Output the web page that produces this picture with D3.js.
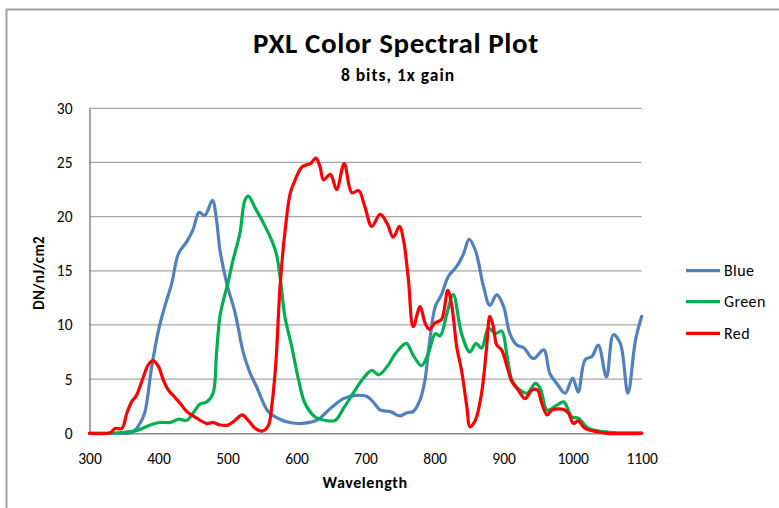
<!DOCTYPE html>
<html>
<head>
<meta charset="utf-8">
<script src="https://cdn.jsdelivr.net/npm/d3@7"></script>
<style>
  html, body { margin: 0; padding: 0; background: #fff; }
  svg { display: block; }
  text { font-family: Carlito, Lato, "Open Sans", sans-serif; fill: #000; }
</style>
</head>
<body>
<svg id="chart" width="779" height="508"></svg>
<script>
const title = "PXL Color Spectral Plot";
const subtitle = "8 bits, 1x gain";
const xTitle = "Wavelength";
const yTitle = "DN/nJ/cm2";
const xTicks = [300, 400, 500, 600, 700, 800, 900, 1000, 1100];
const yTicks = [0, 5, 10, 15, 20, 25, 30];
const seriesNames = ["Blue", "Green", "Red"];
const seriesColors = ["#4f81bd", "#00b050", "#ff0000"];

const blueX = [300,340,362,372,380,390,400,409,419,429,441,450,459,467,478,484,489,499,511,523,533,542,559,576,590,605,629,649,668,687,702,711,721,736,750,760,769,779,786,793,801,810,820,832,842,850,859,871,880,890,900,909,919,929,943,958,967,977,989,1000,1008,1018,1028,1037,1049,1059,1069,1080,1091,1100];
const blueY = [0,0,0.1,0.8,1.9,6.1,9.5,11.7,13.8,16.6,17.7,18.8,20.4,20.1,21.5,19.7,16.9,13.8,11.1,7.4,5.5,4.3,2.0,1.3,1.0,0.9,1.2,2.3,3.2,3.5,3.4,2.9,2.15,2.0,1.6,1.9,2.0,3.1,4.9,8.6,11.7,12.8,14.5,15.4,16.6,17.9,16.9,13.5,11.8,12.8,11.7,9.2,8.15,7.9,6.9,7.7,5.5,4.6,3.7,5.1,3.8,6.8,7.1,8.15,5.2,9.1,8.3,3.7,8.6,10.8];

const greenX = [300,330,350,368,388,402,417,429,441,450,460,470,479,484,489,494,501,508,518,525,530,540,552,564,571,577,583,593,603,612,627,641,656,668,682,697,709,719,731,745,759,769,781,791,801,808,818,827,839,851,860,868,878,888,897,905,912,921,934,946,953,963,977,987,999,1008,1023,1045,1065,1100];
const greenY = [0,0,0.1,0.25,0.77,1.0,1.0,1.3,1.2,1.85,2.7,2.9,3.7,7.4,10.8,12.3,14.0,16.0,18.5,21.5,21.9,20.8,19.4,17.8,16.5,14.0,10.8,8.0,4.9,2.8,1.5,1.2,1.2,2.3,3.7,5.1,5.8,5.4,6.15,7.5,8.3,7.2,6.25,7.4,9.2,9.0,11.1,12.8,9.2,7.5,8.3,7.85,9.7,9.2,9.45,7.1,4.9,4.15,3.7,4.6,4.15,2.15,2.6,2.9,1.5,1.4,0.45,0.15,0.05,0.05];

const redX = [300,330,337,347,354,361,368,378,385,392,400,407,414,424,431,441,453,470,479,489,501,511,521,530,540,550,559,564,570,576,583,591,598,608,620,628,634,639,649,658,669,680,690,699,709,721,731,740,749,755,762,769,779,786,792,801,810,819,825,832,839,847,851,859,868,875,880,885,890,897,905,912,921,931,941,949,955,963,970,987,994,1001,1008,1018,1035,1050,1100];
const redY = [0,0.05,0.45,0.45,1.85,2.9,3.5,5.2,6.3,6.7,6.15,4.9,4.0,3.3,2.8,2.0,1.5,0.9,1.0,0.77,0.77,1.2,1.7,1.2,0.45,0.2,0.7,2.5,6.5,13.5,18.5,22.2,23.4,24.6,24.9,25.4,24.6,23.4,23.9,22.5,24.9,22.2,22.4,20.9,19.1,20.2,19.4,18.1,19.1,17.8,14.2,9.85,11.7,10.2,9.6,10.2,10.5,13.2,11.7,8.0,5.8,2.3,0.6,1.2,3.7,7.7,10.8,9.85,8.15,7.7,6.15,4.75,4.0,3.2,4.0,4.0,2.8,1.7,2.15,2.2,1.85,0.9,1.15,0.45,0.15,0,0];

const seriesX = [blueX, greenX, redX];
const seriesY = [blueY, greenY, redY];

const svg = d3.select("#chart");

// outer frame
svg.append("path")
  .attr("d", "M6.5,520 L6.5,9.5 L790,9.5")
  .attr("fill", "none").attr("stroke", "#a0a0a0").attr("stroke-width", 2);

const x = d3.scaleLinear().domain([300, 1100]).range([89.5, 641.7]);
const y = d3.scaleLinear().domain([0, 30]).range([433.3, 108.3]);

// gridlines
svg.append("g")
  .selectAll("line").data(yTicks.filter(d => d > 0)).join("line")
  .attr("x1", x(300)).attr("x2", x(1100))
  .attr("y1", d => y(d)).attr("y2", d => y(d))
  .attr("stroke", "#a6a6a6").attr("stroke-width", 1.3);

// axes
const yAxis = d3.axisLeft(y).tickValues(yTicks).tickSize(0).tickPadding(17).tickFormat(d3.format("d"));
const gy = svg.append("g").attr("transform", `translate(${x(300)},0)`).call(yAxis);
gy.select(".domain").attr("stroke", "#868686").attr("stroke-width", 1.5);
gy.selectAll("text").attr("font-size", 15.5).attr("font-family", "Carlito, Lato, sans-serif").attr("fill", "#000");

const xAxis = d3.axisBottom(x).tickValues(xTicks).tickSize(0).tickPadding(20).tickFormat(d3.format("d"));
const gx = svg.append("g").attr("transform", `translate(0,${y(0)})`).call(xAxis);
gx.select(".domain").attr("stroke", "#868686").attr("stroke-width", 1.5);
gx.selectAll("text").attr("font-size", 15.5).attr("font-family", "Carlito, Lato, sans-serif").attr("fill", "#000");

// lines
const line = d3.line()
  .x(d => x(d[0])).y(d => y(d[1]))
  .curve(d3.curveCatmullRom.alpha(0.5));

seriesNames.forEach((name, i) => {
  const pts = seriesX[i].map((v, j) => [v, seriesY[i][j]]);
  svg.append("path")
    .datum(pts)
    .attr("d", line)
    .attr("fill", "none")
    .attr("stroke", seriesColors[i])
    .attr("stroke-width", 3.2)
    .attr("stroke-linejoin", "round")
    .attr("stroke-linecap", "round");
});

// titles
svg.append("text").attr("x", 396).attr("y", 53.3).attr("text-anchor", "middle")
  .attr("font-size", 29).attr("font-weight", "bold").attr("letter-spacing", 0.6).text(title);
svg.append("text").attr("x", 398).attr("y", 80.7).attr("text-anchor", "middle")
  .attr("font-size", 17.5).attr("font-weight", "bold").attr("letter-spacing", 1).text(subtitle);
svg.append("text").attr("x", 365).attr("y", 488.3).attr("text-anchor", "middle")
  .attr("font-size", 16).attr("font-weight", "bold").attr("letter-spacing", 0.6).text(xTitle);
svg.append("text").attr("transform", "translate(44,273) rotate(-90)")
  .attr("text-anchor", "middle")
  .attr("font-size", 15).attr("font-weight", "bold").attr("letter-spacing", 0.3).text(yTitle);

// legend
const legendY = [270.7, 301.7, 333.3];
const lg = svg.append("g");
seriesNames.forEach((name, i) => {
  lg.append("line")
    .attr("x1", 686).attr("x2", 720)
    .attr("y1", legendY[i]).attr("y2", legendY[i])
    .attr("stroke", seriesColors[i]).attr("stroke-width", 3.2);
  lg.append("text").attr("x", 724).attr("y", legendY[i])
    .attr("dy", "0.35em").attr("font-size", 16).attr("letter-spacing", 0.4).text(name);
});
</script>
</body>
</html>
